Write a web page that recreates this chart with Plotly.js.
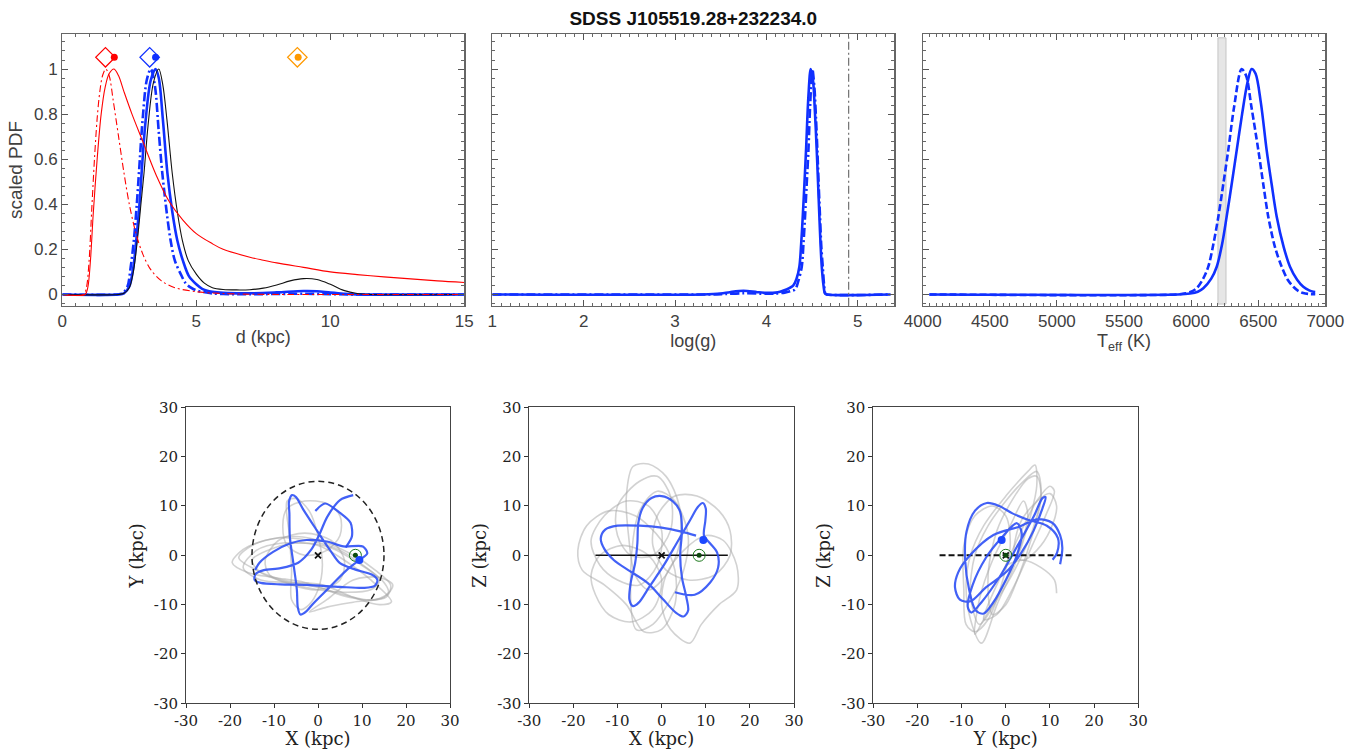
<!DOCTYPE html>
<html>
<head>
<meta charset="utf-8">
<script src="https://cdn.plot.ly/plotly-3.0.1.min.js"></script>
<style>html,body{margin:0;padding:0;background:#fff;}#chart{width:1360px;height:749px;}</style>
</head>
<body>
<div id="chart"></div>
<script>
// ---------------- distance PDFs (kpc, scaled PDF) ----------------
const dRedSolidX = [0, 0.85, 0.95, 1.05, 1.15, 1.3, 1.45, 1.6, 1.75, 1.93, 2.1, 2.3, 2.6, 3.0, 3.5, 4.0, 4.5, 5.0, 5.6, 6.0, 7.0, 7.5, 8.0, 9.0, 10.0, 11.0, 12.0, 13.0, 14.0, 15.0];
const dRedSolidY = [0, 0, 0.03, 0.15, 0.35, 0.6, 0.8, 0.92, 0.98, 1.0, 0.97, 0.9, 0.8, 0.68, 0.53, 0.41, 0.33, 0.27, 0.225, 0.2, 0.165, 0.152, 0.14, 0.12, 0.1, 0.088, 0.078, 0.069, 0.06, 0.053];
const dRedDashX = [0, 0.8, 0.9, 1.0, 1.1, 1.2, 1.3, 1.4, 1.5, 1.62, 1.75, 1.9, 2.1, 2.3, 2.5, 2.75, 3.0, 3.3, 3.7, 4.2, 5.0, 6.0, 7.0, 8.0, 15.0];
const dRedDashY = [0, 0, 0.03, 0.15, 0.38, 0.6, 0.78, 0.9, 0.97, 1.0, 0.97, 0.86, 0.7, 0.54, 0.4, 0.27, 0.18, 0.11, 0.06, 0.03, 0.012, 0.004, 0.001, 0, 0];
const dBlackX = [0, 2.1, 2.3, 2.5, 2.65, 2.8, 2.95, 3.05, 3.2, 3.4, 3.6, 3.75, 3.9, 4.1, 4.3, 4.48, 4.7, 5.0, 5.3, 5.6, 6.0, 6.5, 7.0, 7.5, 8.0, 8.5, 9.0, 9.5, 10.0, 10.5, 11.0, 11.5, 15.0];
const dBlackY = [0, 0, 0.005, 0.03, 0.1, 0.24, 0.42, 0.54, 0.75, 0.94, 1.0, 0.93, 0.78, 0.54, 0.36, 0.24, 0.15, 0.09, 0.05, 0.03, 0.022, 0.02, 0.021, 0.028, 0.042, 0.06, 0.07, 0.066, 0.045, 0.018, 0.004, 0, 0];
const dBlueSolidX = [0, 2.1, 2.3, 2.5, 2.65, 2.76, 2.88, 2.96, 3.1, 3.3, 3.48, 3.6, 3.75, 3.92, 4.1, 4.29, 4.5, 4.73, 5.0, 5.22, 5.6, 6.0, 7.0, 8.0, 9.0, 9.5, 10.0, 10.5, 11.0, 15.0];
const dBlueSolidY = [0, 0, 0.005, 0.035, 0.12, 0.24, 0.4, 0.54, 0.76, 0.95, 1.0, 0.96, 0.78, 0.54, 0.37, 0.24, 0.15, 0.08, 0.045, 0.025, 0.012, 0.007, 0.005, 0.009, 0.015, 0.014, 0.008, 0.003, 0, 0];
const dBlueDashX = [0, 2.05, 2.25, 2.43, 2.55, 2.67, 2.78, 2.86, 3.0, 3.15, 3.3, 3.45, 3.6, 3.73, 3.9, 4.04, 4.2, 4.42, 4.6, 4.8, 5.0, 5.5, 6.0, 7.0, 9.0, 10.0, 11.0, 15.0];
const dBlueDashY = [0, 0, 0.005, 0.034, 0.12, 0.24, 0.4, 0.54, 0.78, 0.95, 1.0, 0.93, 0.72, 0.54, 0.36, 0.24, 0.15, 0.09, 0.05, 0.03, 0.018, 0.006, 0.002, 0.001, 0.003, 0.001, 0, 0];
// distance estimates shown above the curves
const dMarkDiamondX = [1.61, 3.26, 8.77];
const dMarkCircleX = [1.94, 3.48, 8.8];
const dMarkColors = ['#ff0000', '#1030ff', '#ff9900'];
const dMarkY = 1.052;

// ---------------- log(g) PDFs ----------------
const gSolidX = [1, 3.3, 3.5, 3.6, 3.75, 3.9, 4.0, 4.1, 4.15, 4.22, 4.295, 4.33, 4.361, 4.38, 4.398, 4.415, 4.434, 4.46, 4.485, 4.51, 4.53, 4.551, 4.565, 4.58, 4.593, 4.606, 4.625, 4.642, 4.66, 5.36];
const gSolidY = [0, 0, 0.004, 0.01, 0.016, 0.01, 0.007, 0.008, 0.012, 0.022, 0.04, 0.07, 0.123, 0.22, 0.345, 0.48, 0.64, 0.88, 1.0, 0.95, 0.82, 0.64, 0.5, 0.345, 0.22, 0.123, 0.04, 0.004, 0, 0];
const gDashX = [1, 3.4, 3.55, 3.75, 4.0, 4.1, 4.2, 4.27, 4.314, 4.35, 4.387, 4.405, 4.423, 4.44, 4.46, 4.48, 4.503, 4.525, 4.543, 4.558, 4.573, 4.587, 4.6, 4.617, 4.632, 4.645, 4.66, 5.36];
const gDashY = [0, 0, 0.002, 0.005, 0.003, 0.004, 0.008, 0.015, 0.022, 0.06, 0.123, 0.22, 0.345, 0.48, 0.64, 0.85, 1.0, 0.92, 0.78, 0.64, 0.48, 0.345, 0.22, 0.123, 0.04, 0.004, 0, 0];
const gVertLine = 4.9;

// ---------------- Teff PDFs ----------------
const tSolidX = [4050, 5900, 5992, 6050, 6091, 6150, 6191, 6230, 6265, 6300, 6340, 6380, 6420, 6451, 6480, 6520, 6563, 6600, 6638, 6690, 6737, 6790, 6836, 6880, 6911, 6925];
const tSolidY = [0, 0, 0.004, 0.012, 0.027, 0.07, 0.123, 0.22, 0.345, 0.48, 0.64, 0.8, 0.94, 1.0, 0.98, 0.85, 0.64, 0.49, 0.345, 0.21, 0.123, 0.065, 0.034, 0.018, 0.012, 0.011];
const tDashX = [4050, 5900, 5960, 6000, 6041, 6090, 6128, 6165, 6203, 6240, 6277, 6320, 6377, 6410, 6450, 6501, 6540, 6575, 6625, 6675, 6720, 6762, 6800, 6836, 6880, 6925];
const tDashY = [0, 0, 0.005, 0.012, 0.027, 0.07, 0.123, 0.22, 0.345, 0.49, 0.64, 0.83, 1.0, 0.97, 0.83, 0.64, 0.48, 0.345, 0.21, 0.123, 0.065, 0.034, 0.015, 0.006, 0.002, 0.001];
const tBand = [6200, 6260];

// ---------------- orbits (kpc) ----------------
const xyBlueX = [8.0, 5.0, 2.1, 0.3, -1.5, -4.5, -8.5, -12.3, -14.2, -14.4, -13.0, -8.6, -2.6, 5.0, 10.5, 12.9, 13.5, 12.2, 8.5, 5.0, 2.7, -0.3, -3.3, -5.0, -5.9, -6.6, -6.5, -6.4, -5.6, -4.8, -4.6, -4.0, -2.6, -1.0, 2.7, 6.5, 9.4, 11.2, 10.2, 5.8, 2.0, -2.6, -6.4, -10.2, -13.3, -14.3];
const xyBlueY = [12.2, 11.2, 7.8, 4.2, 1.2, -1.5, -2.6, -3.0, -3.8, -5.0, -5.6, -5.9, -6.0, -6.4, -6.6, -6.2, -5.0, -3.9, -2.9, -1.6, 1.1, 5.1, 9.2, 11.8, 12.2, 10.8, 8.5, 3.8, -1.6, -7.0, -10.5, -12.0, -11.3, -9.7, -6.4, -3.0, -0.95, 0.4, 1.8, 1.8, 2.8, 3.1, 2.4, 0.7, -1.5, -3.0];
const xyBlue2X = [6.3, 7.7, 7.4, 5.0, 1.6, -0.6];
const xyBlue2Y = [1.6, 3.8, 6.6, 8.6, 10.5, 9.0];
const xyGray = [
  [[-19.5,-17,-12,-5,2,8,13,16.5,15.5,11,4,-3,-10,-16,-19.5],[-1.5,1.2,3,3.8,2.5,0,-3,-6,-8.5,-9,-7.5,-5.5,-4.5,-3.5,-1.5]],
  [[-17,-14,-8,0,6,12,16.7,14,8,1,-6,-13,-17],[-2.5,1,2.5,2,-1,-5,-9.4,-10,-8.5,-6,-5.5,-5,-2.5]],
  [[-7,-5,-2,0,1,0,-2,-4,-6,-6,-6.5,-7],[11,11.5,9,4,-2,-7,-10,-11,-9,-3,4,11]],
  [[-8,-7,-3,2,5,5,2,-3,-7,-8],[6,9.5,11,10.5,8,4,1,0,2,6]],
  [[-12,-9,-3,3,6,5,0,-6,-11,-12],[-1,3,4.5,3,-1,-5,-7,-6,-4,-1]],
  [[-2,2,8,14,17,15,8,2,-2],[-11.5,-9,-5,-4.5,-6,-8.5,-9.5,-10.5,-11.5]],
  [[-15,-10,-4,3,9,14,12,6,0,-7,-13,-15],[-1,1.5,2.5,1.5,-1.5,-5,-7,-7.5,-7,-5.5,-3.5,-1]],
  [[-18,-15,-9,-2,5,11,15,16,13,7,0,-8,-14,-18],[-0.5,2,3.5,3,1,-2.5,-5.5,-7.5,-9,-8.5,-6.5,-5,-3,-0.5]]
];
const xzBlueX = [3.0, 7.5, 11.0, 12.8, 12.6, 11.0, 9.6, 9.9, 10.0, 9.3, 8.2, 6.5, 3.5, 0.5, -2.8, -5.2, -6.5, -7.3, -7.0, -6.0, -5.5, -5.3, -4.3, -2.3, 0.0, 2.5, 4.2, 4.6, 4.2, 4.6, 5.6, 6.0, 5.0, 3.2, 0.2, -3.2, -7.2, -10.8, -13.0, -13.8, -12.8, -10.0, -5.0, 0.0, 4.5, 7.8];
const xzBlueZ = [-7.5, -8.0, -5.5, -2.5, 0.5, 2.4, 4.0, 7.0, 9.5, 10.6, 9.8, 7.2, 2.6, -2.0, -6.4, -9.6, -10.3, -9.0, -5.5, -1.5, 2.5, 6.5, 9.6, 11.6, 12.0, 11.0, 8.8, 5.0, 0.0, -4.5, -8.5, -11.2, -12.4, -11.6, -8.8, -5.6, -3.2, -1.0, 1.3, 3.4, 5.2, 6.0, 6.0, 5.6, 4.8, 4.0];
const xzGray = [
  [[-19,-17,-12,-6,0,3,3,0,-4,-8,-13,-18,-19],[1,6,9,8,3,-3,-10,-15,-15.5,-10,-6,-3,1]],
  [[-6.5,-3,1,4,4,1,-3,-6,-7.5,-8,-6.5],[18,18.5,16,10,2,-4,-7,-4,4,12,18]],
  [[6.4,9,13,17,17,14,10,5,1,0,2,6.4],[-17.8,-14,-10,-7,-2,3,4,1,-4,-10,-15,-17.8]],
  [[15.5,13,8,3,-1,-2,1,6,12,15.5,15.5],[5,9,12,12,8,2,-3,-5,-4,0,5]],
  [[-15,-12,-7,-2,0,-3,-9,-14,-16,-15],[-8,-12,-13.5,-11,-5,0,2,0,-4,-8]],
  [[-10,-5,-1,2,2,-2,-7,-10,-10],[10,15,16,12,5,0,0,4,10]],
  [[-5.7,-2,2,5,6,3,-1,-5,-7,-5.7],[-15.1,-14,-9,-3,4,11,13,9,-3,-15.1]],
  [[-16,-13,-8,-3,0,-1,-5,-10,-14,-16],[3,8,11,10,5,-2,-6,-5,-2,3]]
];
const yzBlueY = [12.3, 12.8, 12.3, 10.5, 7.0, 3.0, -2.8, -8.1, -10.8, -11.5, -10.4, -8.0, -4.5, 0.2, 3.5, 6.3, 8.3, 9.0, 8.3, 6.4, 3.0, -1.5, -5.5, -7.8, -8.6, -7.5, -4.5, -1.0, 2.5, 3.6, 2.5, 0.0, -2.8, -5.0, -6.8, -8.3, -9.2, -8.9, -7.0, -4.3, -1.5, 1.5, 5.0, 9.3, 11.8, 11.6, 10.6];
const yzBlueZ = [-1.8, 1.5, 4.1, 6.6, 7.3, 5.8, 4.1, 0.0, -3.5, -6.5, -9.0, -9.3, -6.5, -3.3, 0.5, 5.0, 9.5, 11.8, 11.6, 8.0, 2.5, -4.5, -9.5, -11.6, -10.5, -6.0, -0.5, 3.5, 6.5, 4.5, 0.0, -5.0, -9.5, -11.8, -11.2, -7.0, -1.0, 4.8, 9.0, 10.6, 10.0, 8.5, 7.2, 6.0, 3.5, 0.5, -0.9];
const yzGray = [
  [[-5.5,-8,-9,-8,-5,0,5,6.6,7,5,2,-2,-5.5],[-17.8,-13,-6,0,6,12,17,18.3,14,6,-2,-10,-17.8]],
  [[-9,-9.5,-9.5,-7,-3,0,1,-1,-4,-7,-9],[-14,-7,2,8,10,8,2,-6,-13,-15.5,-14]],
  [[-2,2,6,9,11,10,7,3,-1,-4,-5,-2],[-12,-6,2,8,13,14,11,4,-4,-10,-13,-12]],
  [[0,4,8,11,11.5],[-2,-1,-2.5,-5,-7.7]],
  [[-4,-2,2,5,7,8,6,3,0,-3,-4],[-4,5,12,15.5,16,12,4,-4,-10,-12,-4]],
  [[3,6,10,11.5,10,7,4,2,3],[6,10,12.5,10,5,1,-1,0,6]],
  [[-7,-6,-3,1,4,5,3,-1,-5,-7],[-16,-9,-1,6,11,8,1,-7,-13,-16]],
  [[-6,-8,-7,-4,0,4,7,8,6,2,-2,-6],[-14,-8,0,6,11,15,17,13,5,-3,-9,-14]]
];
// points: Galactic centre, Sun, star
const gcXY = [0, 0], sunXY = [8.5, 0], starXY = [9.4, -0.95];
const gcXZ = [0, 0], sunXZ = [8.5, 0], starXZ = [9.45, 3.1];
const gcYZ = [0, 0], sunYZ = [0, 0], starYZ = [-0.94, 3.1];
const diskHalf = 15;
const orbitTicks = [-30, -20, -10, 0, 10, 20, 30];
const orbitTickText = ['-30', '-20', '-10', '0', '10', '20', '30'];

// ---------------- build traces ----------------
const BLUE = '#1030ff';
const OBLUE = 'rgba(45,80,245,0.9)';
const GRAY = 'rgba(165,165,165,0.5)';
const traces = [];
function ln(x, y, ax, color, width, dash, shape, sm) {
  traces.push({x: x, y: y, xaxis: 'x' + ax, yaxis: 'y' + ax, mode: 'lines', hoverinfo: 'skip',
    line: {color: color, width: width, dash: dash || 'solid', shape: shape || 'spline', smoothing: sm || 0.9}, showlegend: false});
}
function pts(x, y, ax, symbol, size, color, lineColor, lineW) {
  traces.push({x: x, y: y, xaxis: 'x' + ax, yaxis: 'y' + ax, mode: 'markers', hoverinfo: 'skip', showlegend: false, cliponaxis: false,
    marker: {symbol: symbol, size: size, color: color, line: {color: lineColor || color, width: lineW || 0}}});
}
const DD = '9px,3px,2px,3px';
// panel 1
ln(dBlueDashX, dBlueDashY, '', BLUE, 2.6, DD);
ln(dBlueSolidX, dBlueSolidY, '', BLUE, 2.6);
ln(dBlackX, dBlackY, '', '#111', 1.1);
ln(dRedSolidX, dRedSolidY, '', '#ff0000', 1.1);
ln(dRedDashX, dRedDashY, '', '#ff0000', 1.1, '7px,3px,2px,3px');
dMarkDiamondX.forEach((v, i) => pts([v], [dMarkY], '', 'diamond-open', 15, dMarkColors[i], dMarkColors[i], 1.2));
dMarkCircleX.forEach((v, i) => pts([v], [dMarkY], '', 'circle', 7, dMarkColors[i]));
// panel 2
ln(gDashX, gDashY, '2', BLUE, 2.6, DD);
ln(gSolidX, gSolidY, '2', BLUE, 2.6);
// panel 3
ln(tDashX, tDashY, '3', BLUE, 2.6, '7px,3px');
ln(tSolidX, tSolidY, '3', BLUE, 2.6);
// orbit panels
xyGray.forEach(g => ln(g[0], g[1], '4', GRAY, 1.6, 'solid'));
ln(xyBlueX, xyBlueY, '4', OBLUE, 2.2, 'solid', 'spline', 0.8);
ln(xyBlue2X, xyBlue2Y, '4', OBLUE, 2.2, 'solid', 'spline', 0.8);
xzGray.forEach(g => ln(g[0], g[1], '5', GRAY, 1.6, 'solid'));
ln([-diskHalf, diskHalf], [0, 0], '5', '#111', 1.6, 'solid', 'linear');
ln(xzBlueX, xzBlueZ, '5', OBLUE, 2.2);
yzGray.forEach(g => ln(g[0], g[1], '6', GRAY, 1.6, 'solid'));
ln([-diskHalf, diskHalf], [0, 0], '6', '#111', 2, '6px,3px', 'linear');
ln(yzBlueY, yzBlueZ, '6', OBLUE, 2.2);
[[gcXY, sunXY, starXY, '4'], [gcXZ, sunXZ, starXZ, '5'], [gcYZ, sunYZ, starYZ, '6']].forEach(s => {
  pts([s[0][0]], [s[0][1]], s[3], 'x-thin-open', 6, '#111', '#111', 1.8);
  pts([s[1][0]], [s[1][1]], s[3], 'circle-open', 12, '#1e7a1e', '#1e7a1e', 1);
  pts([s[1][0]], [s[1][1]], s[3], 'circle', 5, '#0b4a0b');
  pts([s[2][0]], [s[2][1]], s[3], 'circle', 8, '#1d48ff');
});

// ---------------- layout ----------------
const W = 1360, H = 749;
const dx = (a, b) => [a / W, b / W];
const dy = (top, bot) => [1 - bot / H, 1 - top / H];
const sans = 'Liberation Sans, Arial, sans-serif';
const serif = 'DejaVu Serif, serif';
function topX(dom, range, dtick, minor, title) {
  return {domain: dom, range: range, dtick: dtick, tick0: 0, ticks: 'inside', ticklen: 6, tickcolor: '#555', tickwidth: 1,
    minor: {ticks: 'inside', ticklen: 3, dtick: minor, tickcolor: '#666'},
    showline: true, linecolor: '#666', linewidth: 1.2, mirror: 'allticks', showgrid: false, zeroline: false,
    tickfont: {family: sans, size: 17, color: '#404040'},
    title: {text: title, font: {family: sans, size: 18, color: '#404040'}, standoff: 0}};
}
function topY(dom, anchor, labels) {
  const ax = {domain: dom, anchor: anchor, range: [-0.05, 1.154], dtick: 0.2, tick0: 0, ticks: 'inside', ticklen: 6, tickcolor: '#555',
    minor: {ticks: 'inside', ticklen: 3, dtick: 0.04, tickcolor: '#666'},
    showline: true, linecolor: '#666', linewidth: 1.2, mirror: 'allticks', showgrid: false, zeroline: false,
    showticklabels: labels, tickfont: {family: sans, size: 17, color: '#404040'}};
  if (labels) ax.title = {text: 'scaled PDF', font: {family: sans, size: 19, color: '#404040'}, standoff: 6};
  return ax;
}
function botX(dom, anchor, title) {
  return {domain: dom, anchor: anchor, range: [-30, 30], tickvals: orbitTicks, ticktext: orbitTickText, ticks: 'outside', ticklen: 4,
    tickcolor: '#333', showline: true, linecolor: '#444', linewidth: 1, mirror: true, showgrid: false, zeroline: false,
    tickfont: {family: serif, size: 15, color: '#222'},
    title: {text: title, font: {family: serif, size: 18, color: '#222'}, standoff: 1}};
}
function botY(dom, anchor, title) {
  return {domain: dom, anchor: anchor, range: [-30, 30], tickvals: orbitTicks, ticktext: orbitTickText, ticks: 'outside', ticklen: 4,
    tickcolor: '#333', showline: true, linecolor: '#444', linewidth: 1, mirror: true, showgrid: false, zeroline: false,
    tickfont: {family: serif, size: 15, color: '#222'},
    title: {text: title, font: {family: serif, size: 18, color: '#222'}, standoff: 5}};
}
const topRow = dy(34.3, 305.7), botRow = dy(407.3, 703.3);
const layout = {
  width: W, height: H, margin: {l: 0, r: 0, t: 0, b: 0}, paper_bgcolor: '#fff', plot_bgcolor: '#fff', showlegend: false,
  title: {text: '<b>SDSS J105519.28+232234.0</b>', x: 693.3 / W, xanchor: 'center', y: 1 - 18 / H, yanchor: 'middle',
    font: {family: sans, size: 19, color: '#111'}},
  xaxis: Object.assign(topX(dx(62.3, 464.3), [0, 15], 5, 0.5, 'd (kpc)'), {anchor: 'y'}),
  yaxis: topY(topRow, 'x', true),
  xaxis2: Object.assign(topX(dx(492.3, 894.3), [1, 5.4], 1, 0.1, 'log(g)'), {anchor: 'y2', tick0: 1}),
  yaxis2: topY(topRow, 'x2', false),
  xaxis3: Object.assign(topX(dx(922.7, 1325.3), [4000, 7000], 500, 50, 'T<sub>eff</sub> (K)'), {anchor: 'y3'}),
  yaxis3: topY(topRow, 'x3', false),
  xaxis4: botX(dx(186, 450), 'y4', 'X (kpc)'),
  yaxis4: botY(botRow, 'x4', 'Y (kpc)'),
  xaxis5: botX(dx(529.3, 794), 'y5', 'X (kpc)'),
  yaxis5: botY(botRow, 'x5', 'Z (kpc)'),
  xaxis6: botX(dx(873.3, 1138.3), 'y6', 'Y (kpc)'),
  yaxis6: botY(botRow, 'x6', 'Z (kpc)'),
  shapes: [
    {type: 'rect', xref: 'x3', yref: 'y3 domain', x0: tBand[0], x1: tBand[1], y0: 0.006, y1: 0.987,
      fillcolor: '#e6e6e6', line: {color: '#c4c4c4', width: 1}, layer: 'below'},
    {type: 'line', xref: 'x2', yref: 'y2 domain', x0: gVertLine, x1: gVertLine, y0: 0, y1: 1,
      line: {color: '#777', width: 1.3, dash: '8px,3px,2px,3px'}},
    {type: 'circle', xref: 'x4', yref: 'y4', x0: -diskHalf, x1: diskHalf, y0: -diskHalf, y1: diskHalf,
      line: {color: '#222', width: 1.5, dash: '6px,4px'}}
  ]
};
Plotly.newPlot('chart', traces, layout, {staticPlot: true, displayModeBar: false});
</script>
</body>
</html>
